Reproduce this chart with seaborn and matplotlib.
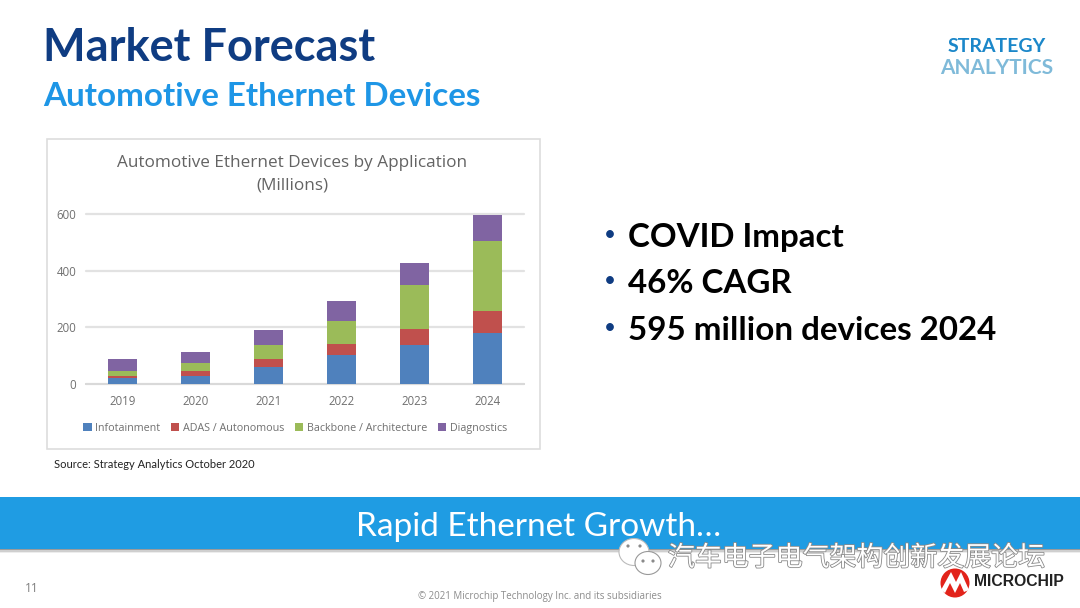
import matplotlib
matplotlib.use("Agg")
import matplotlib.pyplot as plt
import matplotlib.patheffects as pe
from matplotlib.patches import Rectangle, Circle, Ellipse, Polygon
import seaborn as sns

# Chart values (millions of devices)
years = ["2019", "2020", "2021", "2022", "2023", "2024"]
infotainment = [20, 30, 61, 103, 139, 179]
adas = [9, 15, 26, 38, 56, 80]
backbone = [16, 28, 49, 82, 153, 247]
diagnostics = [42, 40, 54, 69, 78, 89]

series_names = ["Infotainment", "ADAS / Autonomous", "Backbone / Architecture", "Diagnostics"]
series_values = [infotainment, adas, backbone, diagnostics]
series_colors = ["#4F81BD", "#C0504D", "#9BBB59", "#8064A2"]
y_ticks = [0, 200, 400, 600]

bullets = ["COVID Impact", "46% CAGR", "595 million devices 2024"]

W, H = 1080, 608
sns.set_theme(style="white")
plt.rcParams["font.family"] = ["Open Sans", "Noto Sans CJK SC", "DejaVu Sans"]

fig = plt.figure(figsize=(W / 100, H / 100), dpi=100, facecolor="white")

# Slide layer in pixel coordinates
slide = fig.add_axes([0, 0, 1, 1])
slide.set_xlim(0, W)
slide.set_ylim(H, 0)
slide.axis("off")

slide.text(43, 48, "Market Forecast", fontsize=32.5, fontweight="bold", color="#0F3C82",
           family="Lato", va="center", ha="left")
slide.text(43, 97, "Automotive Ethernet Devices", fontsize=23.9, fontweight="bold", color="#1E96E6",
           family="Lato", va="center", ha="left")

slide.text(997, 47, "STRATEGY", fontsize=14, fontweight="bold", color="#1B87C9", family="Lato",
           va="center", ha="center")
slide.text(997, 68, "ANALYTICS", fontsize=15, color="#7FBAD9", family="Lato", fontweight="bold",
           va="center", ha="center")

# chart frame
slide.add_patch(Rectangle((46.5, 138.5), 493, 310, facecolor="white", edgecolor="#DDDDDD", linewidth=1.2))
slide.text(292.5, 163, "Automotive Ethernet Devices by Application", fontsize=12.35, color="#636363",
           va="center", ha="center")
slide.text(292.5, 186, "(Millions)", fontsize=12.35, color="#636363", va="center", ha="center")
slide.text(54, 465, "Source: Strategy Analytics October 2020", fontsize=8.05, color="#222222",
           family="Lato", va="center", ha="left")

# bullets
for i, b in enumerate(bullets):
    y = 237 + i * 46.5
    slide.text(604, y - 2, "•", fontsize=15, color="#0F3C82", va="center", ha="left", family="Lato")
    slide.text(628, y, b, fontsize=23.85, fontweight="bold", color="black", family="Lato",
               va="center", ha="left")

# blue banner with a soft shadow
for off, col in zip([4, 2.5, 1], ["#EDEDED", "#CFCFCF", "#9A9A9A"]):
    slide.add_patch(Rectangle((0, 497), W, 52 + off, facecolor=col, edgecolor="none"))
slide.add_patch(Rectangle((0, 497), W, 52, facecolor="#1F9CE3", edgecolor="none"))
slide.text(539, 527, "Rapid Ethernet Growth…", fontsize=24, color="white", family="Lato",
           va="center", ha="center")

slide.text(32, 589, "11", fontsize=8.5, color="#7F7F7F", va="center", ha="center")
slide.text(540, 596, "© 2021 Microchip Technology Inc. and its subsidiaries", fontsize=7, color="#8C8C8C",
           va="center", ha="center")

# watermark
slide.add_patch(Ellipse((634, 552), 30, 27, facecolor="white", edgecolor="#BBBBBB", linewidth=0.8, zorder=5))
slide.add_patch(Ellipse((648, 563), 26, 23, facecolor="white", edgecolor="#999999", linewidth=0.8, zorder=6))
for cx, cy, z in [(628, 546, 7), (640, 546, 7), (643, 561, 7), (653, 561, 7)]:
    slide.add_patch(Circle((cx, cy), 1.6, facecolor="#8A8A8A", edgecolor="none", zorder=z))
slide.text(856, 558, "汽车电子电气架构创新发展论坛", fontsize=19.4, color="white", family="Noto Sans CJK SC",
           va="center", ha="center", zorder=8,
           path_effects=[pe.withStroke(linewidth=1.2, foreground="#8A8A8A")])

# Microchip logo
slide.add_patch(Circle((955, 583), 14.5, facecolor="#E2231A", edgecolor="none", zorder=9))
slide.add_patch(Polygon([(941, 590), (951, 572), (956, 582), (961, 572), (969, 590), (964, 592),
                         (960, 583), (955, 593), (950, 583), (945, 593)],
                        closed=True, facecolor="white", edgecolor="none", zorder=10))
slide.text(974, 582, "MICROCHIP", fontsize=11.3, fontweight="bold", color="#222222", family="Liberation Sans",
           va="center", ha="left", zorder=10)

# Chart axes, placed so 0 sits at y=384 and 600 at y=214
left, right, top, bottom = 86, 524, 214, 384
ax = fig.add_axes([left / W, 1 - bottom / H, (right - left) / W, (bottom - top) / H], facecolor="none")

stack = [0] * len(years)
for name, vals, col in zip(series_names, series_values, series_colors):
    sns.barplot(x=years, y=vals, bottom=stack, color=col, saturation=1, width=0.4,
                edgecolor="none", ax=ax, label=name, zorder=3)
    stack = [s + v for s, v in zip(stack, vals)]

ax.set_ylim(0, 600)
ax.set_yticks(y_ticks)
ax.grid(axis="y", color="#E2E2E2", linewidth=1.6, zorder=0, clip_on=False)
ax.set_axisbelow(True)
ax.tick_params(axis="both", length=0, labelsize=8.3, labelcolor="#707070")
ax.tick_params(axis="x", pad=8)
ax.tick_params(axis="y", pad=7)
sns.despine(ax=ax, left=True, top=True, right=True)
ax.spines["bottom"].set_color("#D9D9D9")
ax.spines["bottom"].set_linewidth(1.4)
ax.set_xlabel("")
ax.set_ylabel("")

leg = ax.legend(loc="center", bbox_to_anchor=(0.478, -0.262), ncol=4, frameon=False, fontsize=7.75,
                handlelength=0.75, handleheight=0.75, handletextpad=0.35, columnspacing=1.0,
                labelcolor="#707070", borderpad=0)

fig.savefig("out.png", dpi=100, facecolor="white")
